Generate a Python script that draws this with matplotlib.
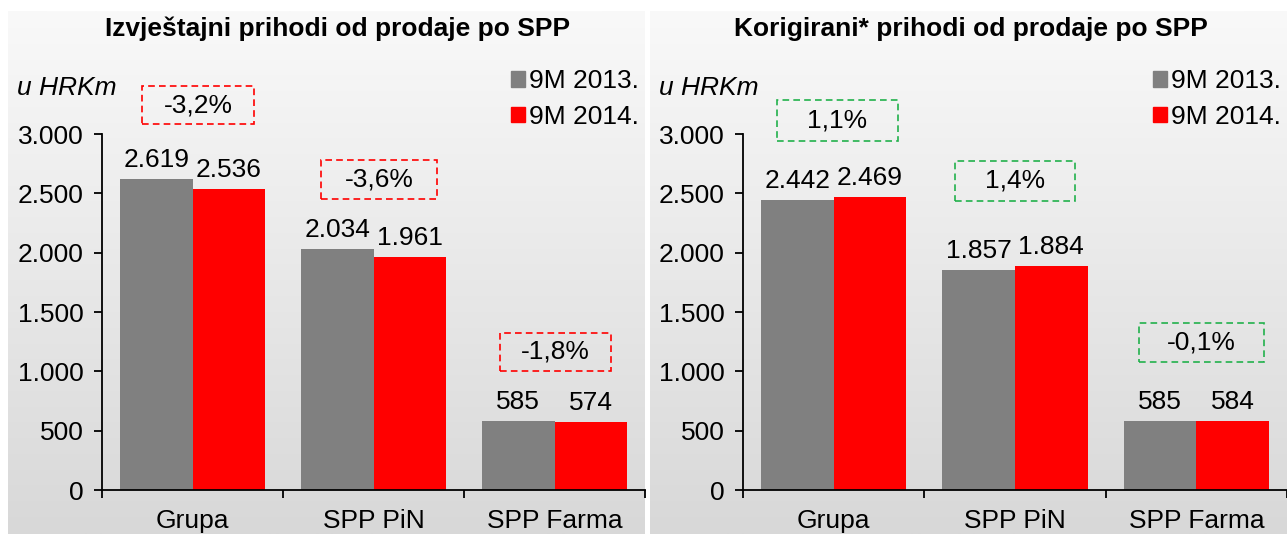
import numpy as np
import matplotlib
matplotlib.use("Agg")
import matplotlib.pyplot as plt
from matplotlib.colors import LinearSegmentedColormap
from matplotlib.patches import Rectangle, Patch

plt.rcParams['font.family'] = ['Liberation Sans', 'DejaVu Sans']

# ---- data ----
categories = ["Grupa", "SPP PiN", "SPP Farma"]
series_names = ["9M 2013.", "9M 2014."]
left_title = "Izvještajni prihodi od prodaje po SPP"
left_2013 = [2619, 2034, 585]
left_2014 = [2536, 1961, 574]
left_changes = ["-3,2%", "-3,6%", "-1,8%"]
right_title = "Korigirani* prihodi od prodaje po SPP"
right_2013 = [2442, 1857, 585]
right_2014 = [2469, 1884, 584]
right_changes = ["1,1%", "1,4%", "-0,1%"]
unit_label = "u HRKm"
yticks = [0, 500, 1000, 1500, 2000, 2500, 3000]

# ---- layout / style ----
W, H = 1287, 534
GRAY = "#808080"
RED = "#ff0000"
GREEN = "#22b14c"
FS = 19

# change-box layout: (x center, y center, width, height) in data units
left_boxes = [(0.03, 3244, 0.62, 320), (1.03, 2617, 0.645, 325), (2.005, 1163, 0.615, 320)]
right_boxes = [(0.02, 3114, 0.67, 340), (1.0, 2604, 0.66, 340), (2.03, 1243, 0.69, 330)]

fig = plt.figure(figsize=(W / 100, H / 100), dpi=100)
fig.patch.set_facecolor("white")

cmap = LinearSegmentedColormap.from_list("bg", ["#f9f9f9", "#d8d8d8"])
grad = np.linspace(0, 1, 256).reshape(-1, 1)


def fmt(v):
    return f"{v:,}".replace(",", ".")


def panel(bg_x, ax_x0, ax_x1, title, title_cx, v13, v14, changes, boxes, box_color):
    bg = fig.add_axes([bg_x / W, 0, 637 / W, 523 / H], zorder=0)
    bg.imshow(grad, aspect="auto", cmap=cmap, extent=[0, 1, 0, 1], origin="upper")
    bg.set_axis_off()

    ax = fig.add_axes([ax_x0 / W, (H - 490) / H, (ax_x1 - ax_x0) / W, 356 / H], zorder=1)
    ax.set_facecolor("none")
    x = np.arange(len(categories))
    bw = 0.4
    b1 = ax.bar(x - bw / 2, v13, bw, color=GRAY, label=series_names[0])
    b2 = ax.bar(x + bw / 2, v14, bw, color=RED, label=series_names[1])
    for bars, vals in ((b1, v13), (b2, v14)):
        for r, v in zip(bars, vals):
            ax.annotate(fmt(v), (r.get_x() + r.get_width() / 2, v), xytext=(0, 5),
                        textcoords="offset points", ha="center", va="bottom", fontsize=FS)
    ax.set_xlim(-0.5, 2.5)
    ax.set_ylim(0, 3000)
    ax.set_yticks(yticks)
    ax.set_yticklabels([fmt(t) for t in yticks], fontsize=FS)
    ax.set_xticks([-0.5, 0.5, 1.5, 2.5])
    ax.set_xticklabels([])
    ax.set_xticks(x, minor=True)
    ax.set_xticklabels(categories, minor=True, fontsize=FS)
    ax.tick_params(axis="x", which="minor", length=0, pad=14)
    ax.tick_params(axis="both", which="major", length=6, width=1.3, direction="out", pad=7)
    for s in ("top", "right"):
        ax.spines[s].set_visible(False)
    for s in ("left", "bottom"):
        ax.spines[s].set_linewidth(1.3)

    for (cx, cy, w, h), lab in zip(boxes, changes):
        ax.add_patch(Rectangle((cx - w / 2, cy - h / 2), w, h, fill=False, edgecolor=box_color,
                               linewidth=1.2, linestyle=(0, (4, 2.5)), clip_on=False))
        ax.text(cx, cy, lab, ha="center", va="center", fontsize=FS, clip_on=False)

    handles = [Patch(color=GRAY), Patch(color=RED)]
    ax.legend(handles, series_names, loc="upper right",
              bbox_to_anchor=((bg_x + 631) / W, (H - 69) / H),
              bbox_transform=fig.transFigure, frameon=False, fontsize=FS,
              handlelength=0.55, handleheight=0.55, handletextpad=0.15,
              labelspacing=0.45, borderpad=0, borderaxespad=0)

    fig.text(title_cx / W, 1 - 29 / H, title, ha="center", va="center",
             fontsize=FS, fontweight="bold")
    fig.text((bg_x + 9) / W, 1 - 88 / H, unit_label, ha="left", va="center",
             fontsize=FS, style="italic")
    return ax


panel(8, 102, 645, left_title, 338, left_2013, left_2014, left_changes, left_boxes, RED)
panel(650, 743, 1287, right_title, 971, right_2013, right_2014, right_changes, right_boxes, GREEN)

fig.savefig("out.png", dpi=100)
